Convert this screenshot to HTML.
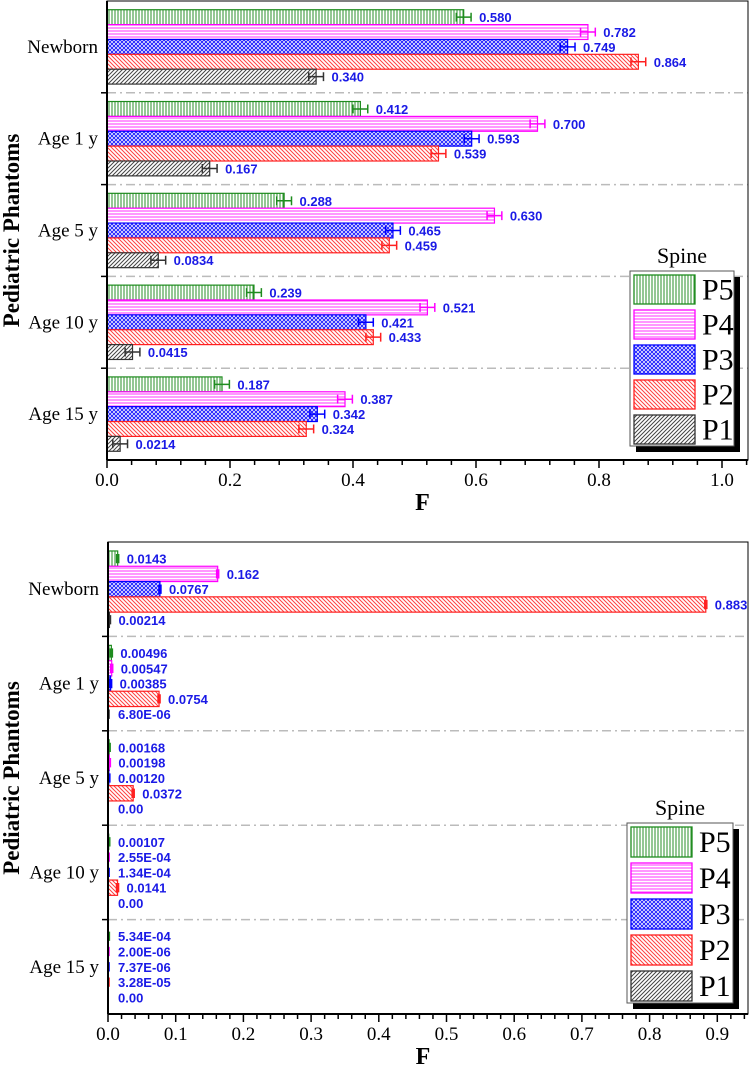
<!DOCTYPE html>
<html><head><meta charset="utf-8"><style>
html,body{margin:0;padding:0;background:#fff;}
svg{display:block;}
text{font-family:"Liberation Serif",serif;}
.val{font-family:"Liberation Sans",sans-serif;font-weight:bold;font-size:13px;fill:#1a1ae6;}
</style></head><body>
<svg id="chart" width="750" height="1069" viewBox="0 0 750 1069" xmlns="http://www.w3.org/2000/svg">
<defs>
<pattern id="pP5" patternUnits="userSpaceOnUse" width="3" height="3"><rect width="3" height="3" fill="#fff"/><line x1="1" y1="0" x2="1" y2="3" stroke="#2a8f2a" stroke-width="1"/></pattern>
<pattern id="pP4" patternUnits="userSpaceOnUse" width="3" height="3"><rect width="3" height="3" fill="#fff"/><line x1="0" y1="1" x2="3" y2="1" stroke="#ff33ff" stroke-width="1"/></pattern>
<pattern id="pP3" patternUnits="userSpaceOnUse" width="4" height="4"><rect width="4" height="4" fill="#fff"/><path d="M0,0 L4,4 M0,4 L4,0" stroke="#2222ff" stroke-width="1"/></pattern>
<pattern id="pP2" patternUnits="userSpaceOnUse" width="4" height="4"><rect width="4" height="4" fill="#fff"/><path d="M0,0 L4,4 M-1,3 L1,5 M3,-1 L5,1" stroke="#ff4040" stroke-width="1"/></pattern>
<pattern id="pP1" patternUnits="userSpaceOnUse" width="4" height="4"><rect width="4" height="4" fill="#fff"/><path d="M0,4 L4,0 M-1,1 L1,-1 M3,5 L5,3" stroke="#444" stroke-width="1"/></pattern>
</defs>
<g id="top"></g>
<g id="bot"></g>
</svg>
<script>
const categories = ["Newborn","Age 1 y","Age 5 y","Age 10 y","Age 15 y"];
const seriesNames = ["P5","P4","P3","P2","P1"];
const topP5 = [0.580,0.412,0.288,0.239,0.187];
const topP4 = [0.782,0.700,0.630,0.521,0.387];
const topP3 = [0.749,0.593,0.465,0.421,0.342];
const topP2 = [0.864,0.539,0.459,0.433,0.324];
const topP1 = [0.340,0.167,0.0834,0.0415,0.0214];
const topLabP5 = ["0.580","0.412","0.288","0.239","0.187"];
const topLabP4 = ["0.782","0.700","0.630","0.521","0.387"];
const topLabP3 = ["0.749","0.593","0.465","0.421","0.342"];
const topLabP2 = ["0.864","0.539","0.459","0.433","0.324"];
const topLabP1 = ["0.340","0.167","0.0834","0.0415","0.0214"];
const topErr = 0.012;
const topTicks = ["0.0","0.2","0.4","0.6","0.8","1.0"];
const botP5 = [0.0143,0.00496,0.00168,0.00107,5.34e-4];
const botP4 = [0.162,0.00547,0.00198,2.55e-4,2.00e-6];
const botP3 = [0.0767,0.00385,0.00120,1.34e-4,7.37e-6];
const botP2 = [0.883,0.0754,0.0372,0.0141,3.28e-5];
const botP1 = [0.00214,6.80e-6,0,0,0];
const botLabP5 = ["0.0143","0.00496","0.00168","0.00107","5.34E-04"];
const botLabP4 = ["0.162","0.00547","0.00198","2.55E-04","2.00E-06"];
const botLabP3 = ["0.0767","0.00385","0.00120","1.34E-04","7.37E-06"];
const botLabP2 = ["0.883","0.0754","0.0372","0.0141","3.28E-05"];
const botLabP1 = ["0.00214","6.80E-06","0.00","0.00","0.00"];
const botErr = 0.0015;
const botTicks = ["0.0","0.1","0.2","0.3","0.4","0.5","0.6","0.7","0.8","0.9"];

const colors = ["#1e8c1e","#ff00ff","#0000ff","#ff2020","#333333"];
const NS="http://www.w3.org/2000/svg";
function mk(parent,tag,attrs,txt){const e=document.createElementNS(NS,tag);for(const k in attrs)e.setAttribute(k,attrs[k]);if(txt!==undefined)e.textContent=txt;parent.appendChild(e);return e;}

function draw(g,cfg){
  const {L,T,R,B,xmax,tickStep,minorStep,ticks,series,labels,err,legend,minLabelX}=cfg;
  const sx=v=>L+(v/xmax)*(R-L);
  const band=(B-T)/categories.length;
  const pad=band*0.095, bh=(band-2*pad)/5;
  for(let i=1;i<categories.length;i++){
    const y=T+band*i;
    const s=mk(g,'line',{x1:L,x2:R,y1:y,y2:y,stroke:'#bbb','stroke-width':1.5,'stroke-dasharray':'9,4,2,4'});
    
    
    const t=mk(g,'line',{x1:L-6,x2:L,y1:y,y2:y,stroke:'#000','stroke-width':1.5});
    
    
  }
  categories.forEach((c,ci)=>{
    const cy=T+band*ci+band/2;
    const lab=mk(g,'text',{x:L-9,y:cy+6,'text-anchor':'end','font-size':19},c);
    
    
    series.forEach((arr,si)=>{
      const v=arr[ci];
      const y=T+band*ci+pad+bh*si;
      const x1=sx(v);
      const r=mk(g,'rect',{x:L,y:y,width:Math.max(0,x1-L),height:bh,fill:'url(#p'+seriesNames[si]+')',stroke:colors[si],'stroke-width':1.2});
      
      
      let ex=x1;
      if(v>0){
        const e1=sx(Math.max(0,v-err)), e2=sx(v+err); ex=e2;
        const eb=mk(g,'path',{d:`M${e1},${y+bh/2}H${e2}M${e1},${y+3}V${y+bh-3}M${e2},${y+3}V${y+bh-3}`,stroke:colors[si],'stroke-width':1.5,fill:'none'});
        
        
      }
      const tx=mk(g,'text',{x:Math.max(minLabelX,ex+8),y:y+bh/2+5,class:'val'},labels[si][ci]);
      
      
    });
  });
  const f=mk(g,'rect',{x:L,y:T,width:R-L,height:B-T,fill:'none',stroke:'#000','stroke-width':1});
  
  
  const ax=mk(g,'line',{x1:L,x2:R,y1:B,y2:B,stroke:'#000','stroke-width':2});
  
  
  const ay=mk(g,'line',{x1:L,x2:L,y1:T,y2:B,stroke:'#000','stroke-width':2});
  
  
  const nMinor=Math.round(xmax/minorStep+1e-6);
  for(let i=0;i<=nMinor;i++){
    const v=i*minorStep, x=sx(v);
    const major=Math.abs(v/tickStep-Math.round(v/tickStep))<1e-6;
    const t=mk(g,'line',{x1:x,x2:x,y1:B,y2:B+(major?8:5),stroke:'#000','stroke-width':1.5});
    
    
  }
  ticks.forEach((s,i)=>{
    const t=mk(g,'text',{x:sx(i*tickStep),y:B+26,'text-anchor':'middle','font-size':19},s);
    
    
  });
  const xt=mk(g,'text',{x:(L+R)/2-5,y:B+50,'text-anchor':'middle','font-size':24,'font-weight':'bold'},'F');
  
  
  const yt=mk(g,'text',{x:0,y:0,'text-anchor':'middle','font-size':23,'font-weight':'bold',transform:`translate(19,${(T+B)/2}) rotate(-90)`},'Pediatric Phantoms');
  
  
  const {lx,ly,lw,lh}=legend;
  const lg=mk(g,'g',{});
  
  
  const lt=mk(lg,'text',{x:lx+lw/2,y:ly-8,'text-anchor':'middle','font-size':22},'Spine');
  
  
  mk(lg,'rect',{x:lx+6,y:ly+6,width:lw,height:lh,fill:'#000'});
  mk(lg,'rect',{x:lx,y:ly,width:lw,height:lh,fill:'#fff',stroke:'#555','stroke-width':1});
  const rowH=lh/5;
  seriesNames.forEach((n,i)=>{
    const e=mk(lg,'g',{});
    
    
    mk(e,'rect',{x:lx+4,y:ly+4+rowH*i,width:61,height:rowH-6,fill:'url(#p'+n+')',stroke:colors[i],'stroke-width':1.3});
    mk(e,'text',{x:lx+72,y:ly+rowH*i+rowH/2+11,'font-size':30},n);
  });
}
draw(document.getElementById('top'),{L:107,T:1,R:748,B:460,xmax:(748-107)/615,tickStep:0.2,minorStep:0.04,ticks:topTicks,
  series:[topP5,topP4,topP3,topP2,topP1],labels:[topLabP5,topLabP4,topLabP3,topLabP2,topLabP1],err:topErr,
  legend:{lx:630,ly:271,lw:104,lh:175},minLabelX:0});
draw(document.getElementById('bot'),{L:108,T:542,R:748,B:1014,xmax:(748-108)/677,tickStep:0.1,minorStep:0.02,ticks:botTicks,
  series:[botP5,botP4,botP3,botP2,botP1],labels:[botLabP5,botLabP4,botLabP3,botLabP2,botLabP1],err:botErr,
  legend:{lx:627,ly:823,lw:106,lh:180},minLabelX:118});
</script>
</body></html>
